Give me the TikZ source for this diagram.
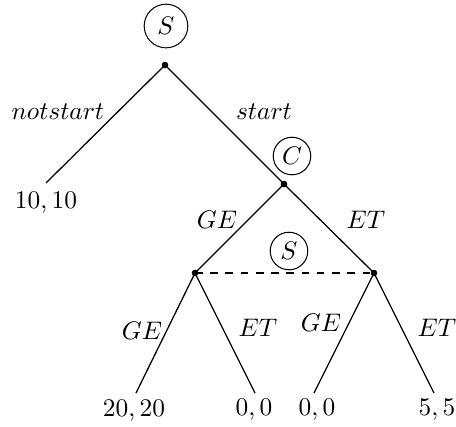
\documentclass[tikz,border=0pt]{standalone}
\begin{document}
\begin{tikzpicture}[x=0.394pt,y=-0.394pt,
  dotnode/.style={circle,fill=black,inner sep=0pt,minimum size=2.6pt},
  player/.style={circle,draw,inner sep=0pt,minimum size=14.8pt},
  edge/.style={line width=0.5pt},
  lbl/.style={inner sep=0pt}]
\useasboundingbox (0,0) rectangle (456,426);
% decision points
\node[dotnode] (r) at (165,65) {};
\node[dotnode] (c) at (284,184) {};
\node[dotnode] (l) at (195,273) {};
\node[dotnode] (rr) at (374,273) {};
% player labels
\node[player,minimum size=17.2pt] (ps1) at (166,26) {$S$};
\node[player] (pc) at (292,156) {$C$};
\node[player] (ps2) at (289,251) {$S$};
% leaf ends
\coordinate (e0) at (46,183);
\coordinate (e1) at (136,393);
\coordinate (e2) at (255,393);
\coordinate (e3) at (314,393);
\coordinate (e4) at (434,393);
% payoffs
\node[lbl] (p0) at (46,203) {$10,10$};
\node[lbl] (p1) at (134,411) {$20,20$};
\node[lbl] (p2) at (254,410) {$0,0$};
\node[lbl] (p3) at (317,410) {$0,0$};
\node[lbl] (p4) at (437,410) {$5,5$};
% edges
\draw[edge] (r.center) -- (e0);
\draw[edge] (r.center) -- (c.center);
\draw[edge] (c.center) -- (l.center);
\draw[edge] (c.center) -- (rr.center);
\draw[edge] (l.center) -- (e1);
\draw[edge] (l.center) -- (e2);
\draw[edge] (rr.center) -- (e3);
\draw[edge] (rr.center) -- (e4);
\draw[edge,dashed] (l.center) -- (rr.center);
% action labels
\node[lbl] (a1) at (58,112) {$notstart$};
\node[lbl] (a2) at (264,112) {$start$};
\node[lbl] (a3) at (217,220) {$GE$};
\node[lbl] (a4) at (366,220) {$ET$};
\node[lbl] (a5) at (142,331) {$GE$};
\node[lbl] (a6) at (258,328) {$ET$};
\node[lbl] (a7) at (321,323) {$GE$};
\node[lbl] (a8) at (437,328) {$ET$};
\end{tikzpicture}
\end{document}
